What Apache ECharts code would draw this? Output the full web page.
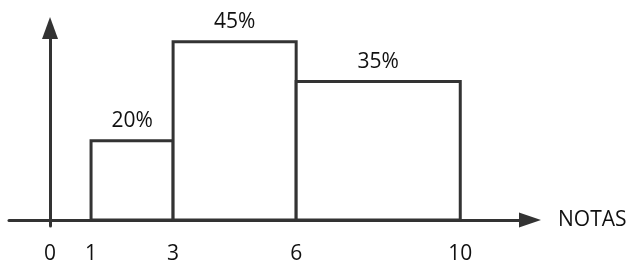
<!DOCTYPE html>
<html>
<head>
<meta charset="utf-8">
<script src="https://cdn.jsdelivr.net/npm/echarts@6/dist/echarts.min.js"></script>
<style>
  html, body { margin: 0; padding: 0; background: #fff; }
  #chart { width: 630px; height: 265px; }
</style>
</head>
<body>
<div id="chart"></div>
<script>
// intervalos de notas e percentagens
var classStart = [1, 3, 6]
var classEnd = [3, 6, 10]
var percents = [20, 45, 35]
var xTickLabels = [0, 1, 3, 6, 10]

var ink = '#333333'
var textColor = '#111111'
var font = '"Open Sans", sans-serif'

var data = percents.map(function (p, i) {
  return [classStart[i], classEnd[i], p]
})

var chart = echarts.init(document.getElementById('chart'))
var option = {
  animation: false,
  grid: { left: 9, right: 100, top: 28, bottom: 35 },
  xAxis: {
    type: 'value',
    min: -1,
    max: 11.7,
    name: 'NOTAS',
    nameLocation: 'end',
    nameGap: 28,
    nameTextStyle: { color: textColor, fontSize: 21, fontFamily: font },
    axisLine: {
      onZero: true,
      symbol: ['none', 'triangle'],
      symbolSize: [15, 22],
      lineStyle: { color: ink, width: 3 }
    },
    axisTick: { show: false },
    axisLabel: {
      customValues: xTickLabels,
      color: textColor,
      fontSize: 21,
      fontFamily: font,
      margin: 18
    },
    splitLine: { show: false }
  },
  yAxis: {
    type: 'value',
    min: -1.5,
    max: 48.5,
    axisLine: {
      show: true,
      onZero: true,
      symbol: ['none', 'triangle'],
      symbolSize: [16, 22],
      lineStyle: { color: ink, width: 3 }
    },
    axisTick: { show: false },
    axisLabel: { show: false },
    splitLine: { show: false }
  },
  series: [{
    type: 'custom',
    data: data,
    renderItem: function (params, api) {
      var topLeft = api.coord([api.value(0), api.value(2)])
      var bottomRight = api.coord([api.value(1), 0])
      var w = bottomRight[0] - topLeft[0]
      var h = bottomRight[1] - topLeft[1]
      return {
        type: 'group',
        children: [{
          type: 'rect',
          shape: { x: topLeft[0], y: topLeft[1], width: w, height: h },
          style: { fill: '#fff', stroke: ink, lineWidth: 3 }
        }, {
          type: 'text',
          x: topLeft[0] + w / 2,
          y: topLeft[1] - 9,
          style: {
            text: api.value(2) + '%',
            fill: textColor,
            fontSize: 21,
            fontFamily: font,
            align: 'center',
            verticalAlign: 'bottom'
          }
        }]
      }
    }
  }]
}
chart.setOption(option)
</script>
</body>
</html>
